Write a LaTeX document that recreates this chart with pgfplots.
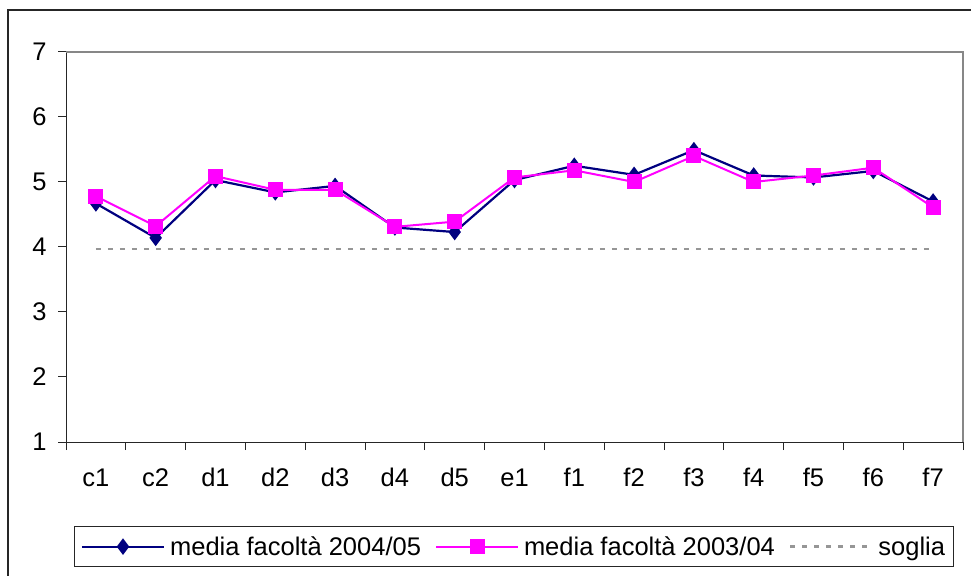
\documentclass[border=0pt]{standalone}
\usepackage{fontspec}
\setmainfont{Liberation Sans}
\usepackage{pgfplots}
\pgfplotsset{compat=1.18}
\definecolor{serblue}{HTML}{000080}
\definecolor{serpink}{HTML}{FF00FF}
\definecolor{thrgray}{HTML}{969696}

\begin{document}
\begin{tikzpicture}
\path[use as bounding box] (0,0) rectangle (971bp,576bp);
\draw[line width=1.5bp, black!85] (8bp,-2bp) -- (8bp,566bp) -- (973bp,566bp);
\begin{axis}[at={(66bp,134bp)}, anchor=south west, scale only axis,
  width=897bp, height=390bp,
  xmin=-0.5, xmax=14.5, ymin=1, ymax=7,
  axis x line*=bottom, axis y line*=left, axis line style={-, black!85, line width=1bp},
  xtick={0,...,14}, xticklabels={c1,c2,d1,d2,d3,d4,d5,e1,f1,f2,f3,f4,f5,f6,f7},
  major x tick style={draw=none},
  minor xtick={-0.5,0.5,...,14.5}, minor tick length=8bp,
  minor x tick style={black!85, line width=1bp},
  ytick={1,...,7}, major tick length=8bp, tick align=outside,
  major y tick style={black!85, line width=1bp},
  tick label style={font=\fontsize{25.5bp}{30bp}\selectfont},
  /pgf/number format/assume math mode=true,
  xticklabel style={yshift=-15bp},
  yticklabel style={xshift=-8bp},
  clip=false,
  legend columns=3,
  legend style={at={(rel axis cs:0.4994,-0.2154)}, anchor=north, draw=black!85, line width=1bp,
    font=\fontsize{25.5bp}{30bp}\selectfont, inner xsep=6bp, inner ysep=8bp,
    /tikz/every even column/.append style={column sep=12bp},
    /tikz/every odd column/.append style={column sep=3bp}},
  legend image code/.code={\draw[mark repeat=2, mark phase=2, #1] plot coordinates {(0bp,0bp) (41bp,0bp) (82bp,0bp)};},
]
\addplot[serblue, line width=2.2bp, mark=diamond*, mark size=6.5bp, mark options={solid, fill=serblue}]
  coordinates {(0,4.67)(1,4.14)(2,5.03)(3,4.84)(4,4.94)(5,4.30)(6,4.23)(7,5.03)(8,5.25)(9,5.11)(10,5.49)(11,5.10)(12,5.07)(13,5.17)(14,4.70)};
\addlegendentry{media facoltà 2004/05}
\addplot[serpink, line width=2bp, mark=square*, mark size=6.5bp, mark options={solid, fill=serpink}]
  coordinates {(0,4.78)(1,4.32)(2,5.09)(3,4.88)(4,4.88)(5,4.31)(6,4.39)(7,5.07)(8,5.18)(9,5.00)(10,5.40)(11,5.00)(12,5.10)(13,5.22)(14,4.61)};
\addlegendentry{media facoltà 2003/04}
\addplot[thrgray, line width=2.5bp, dash pattern=on 5bp off 7bp]
  coordinates {(0,3.97)(14,3.97)};
\addlegendentry{soglia}
\draw[thrgray!90!black, line width=1.5bp] (rel axis cs:0,1) -- (rel axis cs:1,1) -- (rel axis cs:1,0);
\end{axis}
\end{tikzpicture}
\end{document}
